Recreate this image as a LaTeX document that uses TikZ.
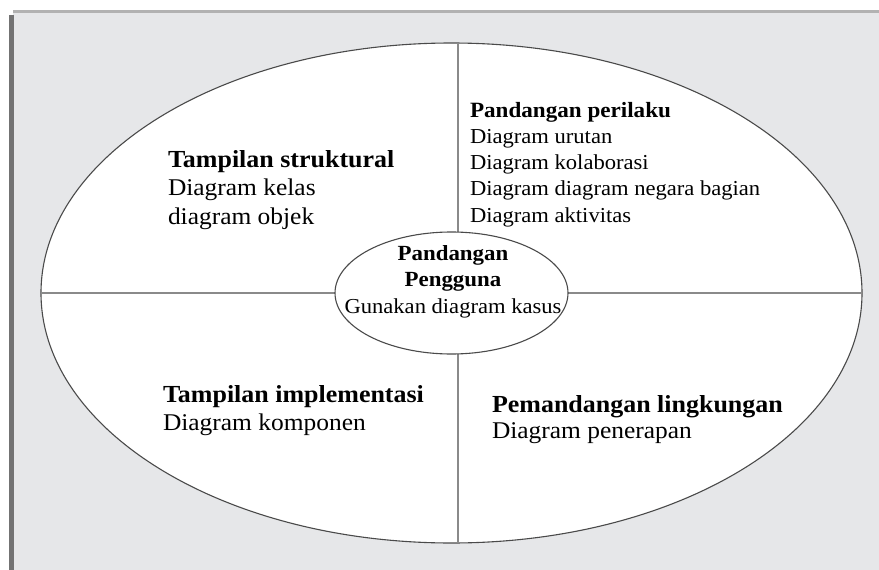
\documentclass[tikz,border=0pt]{standalone}
\usepackage{fontspec}
\setmainfont{Liberation Serif}[FakeStretch=1.06]
\usetikzlibrary{shapes.geometric}
\newcommand\myfs[2]{\fontsize{#1}{#2}\selectfont}
\newcommand\ttl[2]{{\fontsize{#1}{#1}\selectfont\bfseries #2}}
\definecolor{bggray}{HTML}{E6E7E9}
\definecolor{edgegray}{HTML}{4A4A4A}
\definecolor{linegray}{HTML}{8A8A8A}
\tikzset{
  oval/.style={ellipse, draw=edgegray, fill=white, line width=1.1pt, inner sep=0pt, outer sep=0pt},
  divider/.style={draw=linegray, line width=1.4pt},
  txt/.style={inner sep=0pt, outer sep=0pt, text=black}
}
\begin{document}
\begin{tikzpicture}[x=1pt,y=-1pt]
\useasboundingbox (0,0) rectangle (879,570);
\fill[white] (0,0) rectangle (879,570);
\fill[bggray] (13,13) rectangle (879,570);
\fill[black!30] (13,10) rectangle (879,13);
\fill[black!55] (9,15) rectangle (14,570);
\node[oval, minimum width=821, minimum height=500] (outer) at (451.5,293) {};
\coordinate (vt) at (458,43.03);
\coordinate (vb) at (458,542.97);
\draw[divider] (outer.west) -- (outer.east);
\draw[divider] (vt) -- (vb);
\node[oval, minimum width=233, minimum height=122] (inner) at (451.5,293) {};
\node[txt, font=\myfs{24}{28.5}, align=left, anchor=base west] (tl) at (168,224)
  {\ttl{24.5}{Tampilan struktural}\\Diagram kelas\\diagram objek};
\node[txt, font=\myfs{21.3}{26.2}, align=left, anchor=base west] (tr) at (470,222)
  {\ttl{21.8}{Pandangan perilaku}\\Diagram urutan\\Diagram kolaborasi\\Diagram diagram negara bagian\\Diagram aktivitas};
\node[txt, font=\myfs{24}{28}, align=left, anchor=base west] (bl) at (163,430)
  {\ttl{24.5}{Tampilan implementasi}\\Diagram komponen};
\node[txt, font=\myfs{24}{26}, align=left, anchor=base west] (br) at (492,438)
  {\ttl{24.5}{Pemandangan lingkungan}\\Diagram penerapan};
\node[txt, font=\myfs{21.3}{26.5}, align=center, anchor=base] (ctr) at (453,313)
  {\ttl{21.6}{Pandangan}\\\ttl{21.6}{Pengguna}\\Gunakan diagram kasus};
\end{tikzpicture}
\end{document}
